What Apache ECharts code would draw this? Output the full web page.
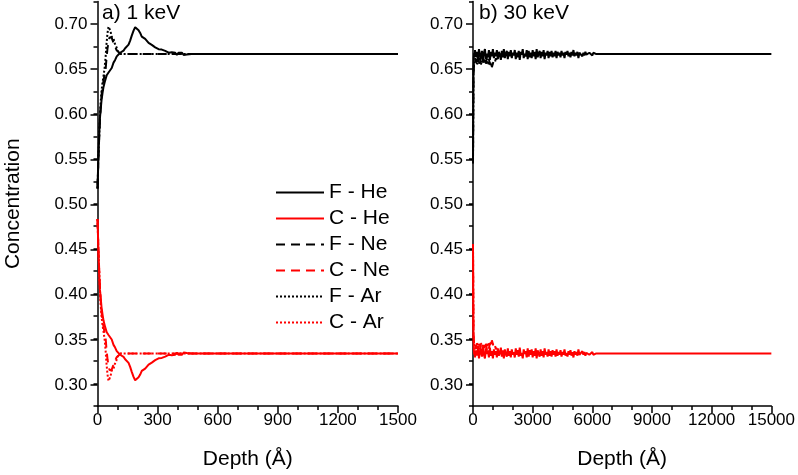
<!DOCTYPE html>
<html><head><meta charset="utf-8">
<script src="https://cdn.jsdelivr.net/npm/echarts@6/dist/echarts.min.js"></script>
<style>html,body{margin:0;padding:0;background:#fff}#c{width:798px;height:475px}</style>
</head><body><div id="c"></div>
<script>
const seriesNames = ['F - He','C - He','F - Ne','C - Ne','F - Ar','C - Ar'];
const panelTitles = ['a) 1 keV','b) 30 keV'];
const yTicks = [0.30,0.35,0.40,0.45,0.50,0.55,0.60,0.65,0.70];

// ---- panel a (1 keV) ----
const aDepthHe = [0,3,6,9,12,16,20,25,30,38,46,55,63,71,80,88,96,105,113,121,130,138,146,155,163,171,180,188,196,205,213,221,230,238,246,255,263,271,280,288,296,305,313,321,330,338,346,355,363,371,380,388,396,405,413,421,430,438,446,455,470,500,1500];
const aFHe = [0.517,0.540,0.560,0.580,0.595,0.605,0.615,0.623,0.630,0.637,0.643,0.646,0.644,0.651,0.657,0.660,0.664,0.665,0.668,0.668,0.6704,0.673,0.673,0.677,0.6815,0.687,0.6926,0.6963,0.695,0.693,0.690,0.686,0.685,0.6834,0.682,0.679,0.678,0.6767,0.677,0.674,0.6742,0.672,0.674,0.6715,0.672,0.670,0.6704,0.668,0.670,0.6686,0.667,0.668,0.6656,0.668,0.666,0.668,0.6655,0.667,0.666,0.667,0.6665,0.6667,0.6667];
const aCHe = [0.483,0.460,0.440,0.420,0.405,0.395,0.385,0.377,0.370,0.363,0.357,0.354,0.356,0.349,0.343,0.340,0.336,0.335,0.332,0.332,0.3296,0.327,0.327,0.323,0.3185,0.313,0.3074,0.3037,0.305,0.307,0.310,0.314,0.315,0.3166,0.318,0.321,0.322,0.3233,0.323,0.326,0.3258,0.328,0.326,0.3285,0.328,0.330,0.3296,0.332,0.330,0.3314,0.333,0.332,0.3344,0.332,0.334,0.332,0.3345,0.333,0.334,0.333,0.3335,0.3333,0.3333];
const aDepthNeAr = [0,5,10,15,20,25,30,35,40,45,50,55,60,65,70,75,80,85,90,95,100,115,1500];
const aFNe = [0.517,0.553,0.582,0.605,0.620,0.630,0.637,0.643,0.648,0.662,0.673,0.680,0.685,0.687,0.685,0.682,0.679,0.676,0.674,0.671,0.669,0.6667,0.6667];
const aCNe = [0.483,0.447,0.418,0.395,0.380,0.370,0.363,0.357,0.352,0.338,0.327,0.320,0.315,0.313,0.315,0.318,0.321,0.324,0.326,0.329,0.331,0.3333,0.3333];
const aFAr = [0.517,0.555,0.585,0.610,0.625,0.635,0.642,0.650,0.662,0.678,0.690,0.697,0.698,0.692,0.686,0.688,0.684,0.679,0.677,0.674,0.670,0.6667,0.6667];
const aCAr = [0.483,0.445,0.415,0.390,0.375,0.365,0.358,0.350,0.338,0.322,0.310,0.303,0.302,0.308,0.314,0.312,0.316,0.321,0.323,0.326,0.330,0.3333,0.3333];

// ---- panel b (30 keV) ----
const bDepthHe = [0,20,40,60,80,
 100,150,200,250,300,350,400,450,500,550,600,650,700,750,800,850,900,950,1000,
 1050,1100,1150,1200,1250,1300,1350,1400,1450,1500,1550,1600,1650,1700,1750,1800,1850,1900,1950,2000,
 2050,2100,2150,2200,2250,2300,2350,2400,2450,2500,2550,2600,2650,2700,2750,2800,2850,2900,2950,3000,
 3050,3100,3150,3200,3250,3300,3350,3400,3450,3500,3550,3600,3650,3700,3750,3800,3850,3900,3950,4000,
 4050,4100,4150,4200,4250,4300,4350,4400,4450,4500,4550,4600,4650,4700,4750,4800,4850,4900,4950,5000,
 5050,5100,5150,5200,5250,5300,5350,5400,5450,5500,5550,5600,5650,5700,5750,5800,5850,5900,5950,6000,
 6050,6100,6150,6200,6250,6300,15000];
const bFHe = [0.545,0.640,0.662,0.668,0.664,
 0.671,0.663,0.669,0.660,0.672,0.665,0.662,0.670,0.659,0.668,0.672,0.661,0.667,0.663,0.671,0.660,0.669,0.664,0.672,
 0.662,0.668,0.664,0.671,0.661,0.669,0.666,0.660,0.670,0.663,0.672,0.662,0.667,0.670,0.661,0.669,0.664,0.671,0.662,0.668,
 0.665,0.671,0.661,0.668,0.663,0.670,0.660,0.669,0.666,0.672,0.662,0.667,0.664,0.671,0.661,0.670,0.663,0.668,0.662,0.671,
 0.664,0.669,0.661,0.672,0.663,0.667,0.670,0.662,0.669,0.664,0.671,0.661,0.668,0.665,0.670,0.662,0.669,0.664,0.670,0.663,
 0.668,0.664,0.670,0.662,0.669,0.665,0.668,0.663,0.670,0.665,0.668,0.662,0.669,0.666,0.670,0.664,0.668,0.663,0.669,0.665,
 0.671,0.664,0.668,0.665,0.669,0.662,0.668,0.666,0.669,0.664,0.668,0.665,0.669,0.666,0.668,0.665,0.668,0.666,0.667,0.665,
 0.668,0.666,0.668,0.6665,0.667,0.6668,0.6667];
const bCHe = [0.455,0.360,0.338,0.332,0.336,
 0.329,0.337,0.331,0.340,0.328,0.335,0.338,0.330,0.341,0.332,0.328,0.339,0.333,0.337,0.329,0.340,0.331,0.336,0.328,
 0.338,0.332,0.336,0.329,0.339,0.331,0.334,0.340,0.330,0.337,0.328,0.338,0.333,0.330,0.339,0.331,0.336,0.329,0.338,0.332,
 0.335,0.329,0.339,0.332,0.337,0.330,0.340,0.331,0.334,0.328,0.338,0.333,0.336,0.329,0.339,0.330,0.337,0.332,0.338,0.329,
 0.336,0.331,0.339,0.328,0.337,0.333,0.330,0.338,0.331,0.336,0.329,0.339,0.332,0.335,0.330,0.338,0.331,0.336,0.330,0.337,
 0.332,0.336,0.330,0.338,0.331,0.335,0.332,0.337,0.330,0.335,0.332,0.338,0.331,0.334,0.330,0.336,0.332,0.337,0.331,0.335,
 0.329,0.336,0.332,0.335,0.331,0.338,0.332,0.334,0.331,0.336,0.332,0.335,0.331,0.334,0.332,0.335,0.332,0.334,0.333,0.335,
 0.332,0.334,0.332,0.3335,0.333,0.3332,0.3333];
const bDepthNe = [0,25,50,100,150,200,250,300,350,400,450,500,550,600,650,700,750,800,850,900,950,1000,1050,1100,1150,1200];
const bFNe = [0.545,0.645,0.655,0.662,0.657,0.664,0.658,0.665,0.656,0.663,0.659,0.664,0.657,0.662,0.656,0.663,0.658,0.661,0.655,0.660,0.652,0.656,0.660,0.657,0.662,0.660];
const bCNe = [0.455,0.355,0.345,0.338,0.343,0.336,0.342,0.335,0.344,0.337,0.341,0.336,0.343,0.338,0.344,0.337,0.342,0.339,0.345,0.340,0.348,0.344,0.340,0.343,0.338,0.340];
const bDepthAr = [0,25,50,100,150,200,250,300,350,400,450,500,550,600,650,700,750,800,850,900,950,1000];
const bFAr = [0.545,0.648,0.657,0.655,0.661,0.654,0.660,0.656,0.662,0.655,0.659,0.656,0.661,0.657,0.660,0.655,0.659,0.654,0.658,0.653,0.657,0.655];
const bCAr = [0.455,0.352,0.343,0.345,0.339,0.346,0.340,0.344,0.338,0.345,0.341,0.344,0.339,0.343,0.340,0.345,0.341,0.346,0.342,0.347,0.343,0.345];

const FONT = "'Liberation Sans', Arial, sans-serif";
const pair = (xs, ys) => xs.map((x, i) => [x, ys[i]]);
const styles = {
  'F - He': {color:'#000000', type:'solid'},
  'C - He': {color:'#ff0000', type:'solid'},
  'F - Ne': {color:'#000000', type:[9,6]},
  'C - Ne': {color:'#ff0000', type:[9,6]},
  'F - Ar': {color:'#000000', type:[2,2]},
  'C - Ar': {color:'#ff0000', type:[2,2]}
};
function mk(name, xi, data) {
  const s = styles[name];
  return {name, type:'line', xAxisIndex:xi, yAxisIndex:xi, data, showSymbol:false, symbol:'none',
    color:s.color, lineStyle:{color:s.color, width:2, type:s.type}, animation:false, z:3};
}
const series = [
  mk('F - He',0,pair(aDepthHe,aFHe)), mk('C - He',0,pair(aDepthHe,aCHe)),
  mk('F - Ne',0,pair(aDepthNeAr,aFNe)), mk('C - Ne',0,pair(aDepthNeAr,aCNe)),
  mk('F - Ar',0,pair(aDepthNeAr,aFAr)), mk('C - Ar',0,pair(aDepthNeAr,aCAr)),
  mk('F - He',1,pair(bDepthHe,bFHe)), mk('C - He',1,pair(bDepthHe,bCHe)),
  mk('F - Ne',1,pair(bDepthNe,bFNe)), mk('C - Ne',1,pair(bDepthNe,bCNe)),
  mk('F - Ar',1,pair(bDepthAr,bFAr)), mk('C - Ar',1,pair(bDepthAr,bCAr))
];
const axLine = {show:true, lineStyle:{color:'#000', width:1.5}};
const tickStyle = {color:'#000', width:1.5};
function xAx(gi, max, interval) {
  return {type:'value', gridIndex:gi, min:0, max, interval,
    axisLine:axLine, axisTick:{show:true, length:7, lineStyle:tickStyle},
    minorTick:{show:true, splitNumber:3, length:4, lineStyle:tickStyle},
    splitLine:{show:false}, minorSplitLine:{show:false},
    axisLabel:{fontSize:17, color:'#000', fontFamily:FONT, margin:6, formatter:v=>String(v)},
    name:'Depth (Å)', nameLocation:'middle', nameGap:43,
    nameTextStyle:{fontSize:21, color:'#000', fontFamily:FONT}};
}
function yMain(gi, named) {
  const o = {type:'value', gridIndex:gi, min:0.275, max:0.725, interval:0.025,
    axisLine:axLine, axisTick:{show:true, length:4, lineStyle:tickStyle},
    axisLabel:{show:false}, splitLine:{show:false}};
  if (named) Object.assign(o, {name:'Concentration', nameLocation:'middle', nameGap:74,
    nameTextStyle:{fontSize:21, color:'#000', fontFamily:FONT}});
  return o;
}
function yMajor(gi) {
  return {type:'value', gridIndex:gi, min:yTicks[0], max:yTicks[yTicks.length-1], interval:0.05,
    axisLine:{show:false}, axisTick:{show:true, length:7, lineStyle:tickStyle},
    axisLabel:{fontSize:17, color:'#000', fontFamily:FONT, margin:10, formatter:v=>v.toFixed(2)},
    splitLine:{show:false}};
}
const option = {
  animation:false,
  backgroundColor:'#fff',
  textStyle:{fontFamily:FONT},
  title:[
    {text:panelTitles[0], left:102, top:3, padding:0, textStyle:{fontSize:21, fontWeight:'normal', color:'#000', fontFamily:FONT}},
    {text:panelTitles[1], left:479, top:3, padding:0, textStyle:{fontSize:21, fontWeight:'normal', color:'#000', fontFamily:FONT}}
  ],
  legend:{data:seriesNames, orient:'vertical', left:275, top:182, padding:0, itemWidth:48, itemHeight:14, itemGap:5,
    itemStyle:{opacity:0}, textStyle:{fontSize:21, color:'#000', fontFamily:FONT}, selectedMode:false},
  grid:[
    {left:97.5, top:1.5, width:300.5, height:406.5},
    {left:473, top:1.5, width:300, height:406.5},
    {left:97.5, top:24, width:300.5, height:361},
    {left:473, top:24, width:300, height:361}
  ],
  xAxis:[xAx(0,1500,300), xAx(1,15000,3000),
    {type:'value', gridIndex:2, show:false, min:0, max:1}, {type:'value', gridIndex:3, show:false, min:0, max:1}],
  yAxis:[yMain(0,true), yMain(1,false), yMajor(2), yMajor(3)],
  series
};
echarts.init(document.getElementById('c'), null, {renderer:'canvas'}).setOption(option);
</script>
</body></html>
